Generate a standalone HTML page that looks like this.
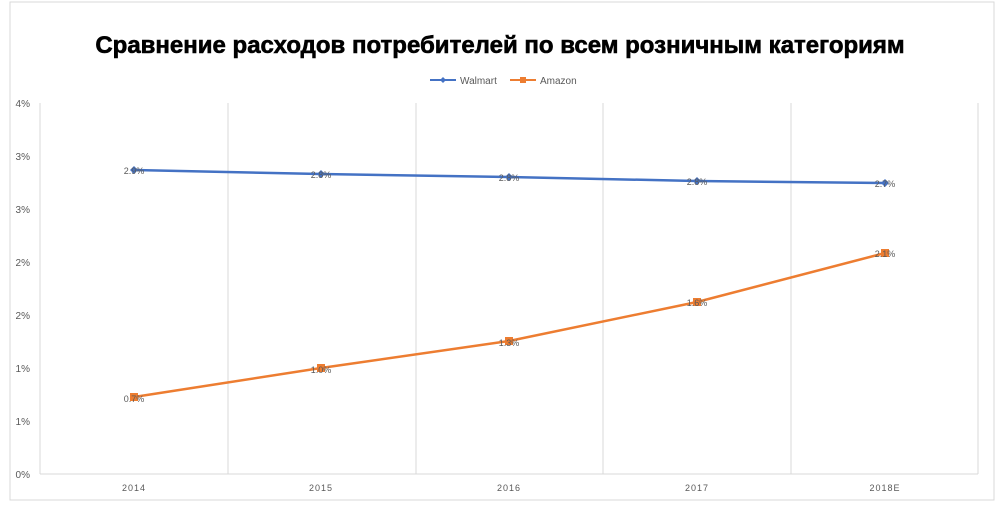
<!DOCTYPE html>
<html><head><meta charset="utf-8"><style>
body{margin:0;background:#fff;}
svg text{font-family:"Liberation Sans",sans-serif;}
</style></head><body>
<svg width="1000" height="505" viewBox="0 0 1000 505">
<rect x="10" y="2" width="984" height="498" fill="#fff" stroke="#d9d9d9" stroke-width="1"/>
<text x="500" y="53" text-anchor="middle" font-size="24" font-weight="bold" fill="#000" stroke="#000" stroke-width="0.6">Сравнение расходов потребителей по всем розничным категориям</text>
<line x1="430" y1="80" x2="456" y2="80" stroke="#4472c4" stroke-width="2"/><path d="M443,77 l3,3 -3,3 -3,-3z" fill="#4472c4"/>
<text x="460" y="84" font-size="10" fill="#595959">Walmart</text>
<line x1="510" y1="80" x2="536" y2="80" stroke="#ed7d31" stroke-width="2"/><rect x="520" y="77" width="6" height="6" fill="#ed7d31"/>
<text x="540" y="84" font-size="10" fill="#595959">Amazon</text>
<g stroke="#d9d9d9" stroke-width="1">
<line x1="40" y1="103" x2="40" y2="474"/><line x1="228" y1="103" x2="228" y2="474"/><line x1="416" y1="103" x2="416" y2="474"/><line x1="603" y1="103" x2="603" y2="474"/><line x1="791" y1="103" x2="791" y2="474"/><line x1="978" y1="103" x2="978" y2="474"/>
<line x1="40" y1="474" x2="978" y2="474"/>
</g>
<g font-size="10" fill="#595959" text-anchor="end">
<text x="30" y="107">4%</text><text x="30" y="160">3%</text><text x="30" y="213">3%</text><text x="30" y="266">2%</text><text x="30" y="319">2%</text><text x="30" y="372">1%</text><text x="30" y="425">1%</text><text x="30" y="478">0%</text>
</g>
<g font-size="9" fill="#595959" text-anchor="middle" letter-spacing="1">
<text x="134" y="491">2014</text><text x="321" y="491">2015</text><text x="509" y="491">2016</text><text x="697" y="491">2017</text><text x="885" y="491">2018E</text>
</g>
<polyline points="134,170 321,174 509,177 697,181 885,183" fill="none" stroke="#4472c4" stroke-width="2.5"/>
<g fill="#4472c4">
<path d="M134,166 l4,4 -4,4 -4,-4z"/><path d="M321,170 l4,4 -4,4 -4,-4z"/><path d="M509,173 l4,4 -4,4 -4,-4z"/><path d="M697,177 l4,4 -4,4 -4,-4z"/><path d="M885,179 l4,4 -4,4 -4,-4z"/>
</g>
<polyline points="134,397 321,368 509,341 697,302 885,253" fill="none" stroke="#ed7d31" stroke-width="2.5"/>
<g fill="#ed7d31">
<rect x="130" y="393" width="8" height="8"/><rect x="317" y="364" width="8" height="8"/><rect x="505" y="337" width="8" height="8"/><rect x="693" y="298" width="8" height="8"/><rect x="881" y="249" width="8" height="8"/>
</g>
<g font-size="9" fill="#595959" text-anchor="middle">
<text x="134" y="174">2.9%</text><text x="321" y="178">2.8%</text><text x="509" y="181">2.8%</text><text x="697" y="185">2.8%</text><text x="885" y="187">2.7%</text>
<text x="134" y="402">0.7%</text><text x="321" y="373">1.0%</text><text x="509" y="346">1.3%</text><text x="697" y="306">1.6%</text><text x="885" y="257">2.1%</text>
</g>
</svg>
</body></html>
